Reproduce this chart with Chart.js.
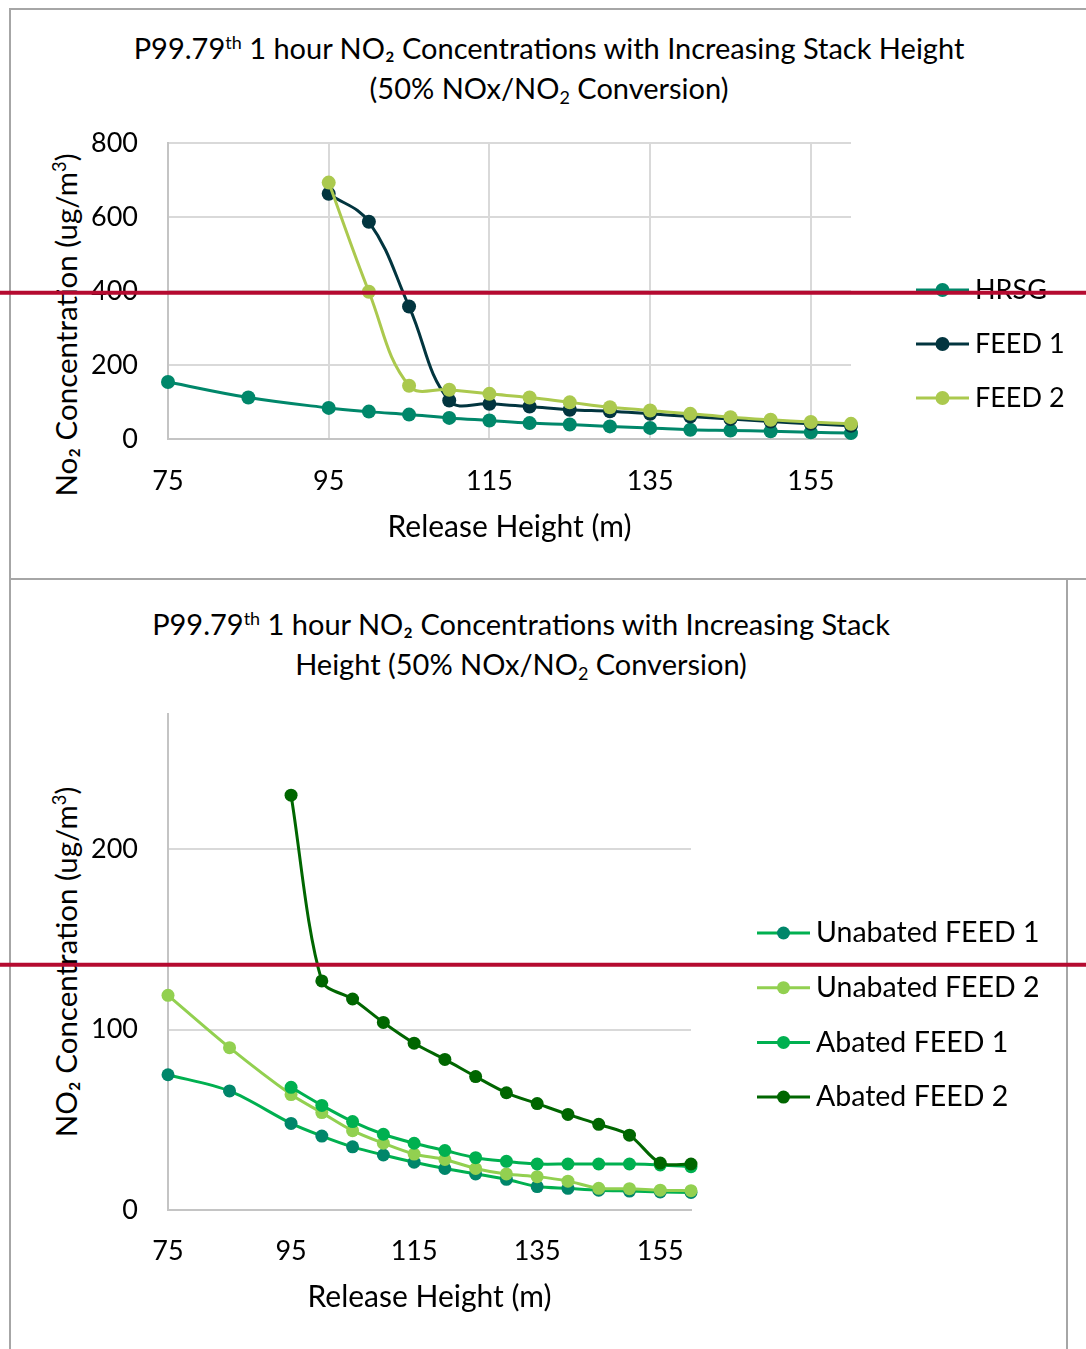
<!DOCTYPE html>
<html>
<head>
<meta charset="utf-8">
<script src="https://cdn.jsdelivr.net/npm/chart.js@4.4.0/dist/chart.umd.min.js"></script>
<style>
  html, body { margin: 0; padding: 0; background: #fff; }
  #page { position: relative; width: 1086px; height: 1349px; overflow: hidden; font-family: Lato, "Open Sans", sans-serif; color: #000; }
  .box { position: absolute; border: 2px solid #a6a6a6; box-sizing: border-box; }
  #box1 { left: 9px; top: 8px; width: 1100px; height: 572px; }
  #box2 { left: 9px; top: 578px; width: 1059px; height: 800px; }
  .title { position: absolute; transform: translateX(-50%); text-align: center; font-size: 29px; line-height: 39.5px; white-space: nowrap; }
  .title sup { font-size: 0.62em; vertical-align: 0.55em; line-height: 0; }
  .title sub { font-size: 0.62em; vertical-align: -0.3em; line-height: 0; }
  .ytitle { position: absolute; font-size: 29.5px; white-space: nowrap; transform: translate(-50%, -50%) rotate(-90deg); }
  .ytitle sup { font-size: 0.62em; vertical-align: 0.55em; line-height: 0; }
  canvas { position: absolute; left: 0; }
  #c1 { top: 0; }
  #c2 { top: 578px; }
</style>
</head>
<body>
<div id="page">
  <div class="box" id="box1"></div>
  <div class="box" id="box2"></div>
  <div class="title" style="left:549px; top:28px;">P99.79<sup>th</sup> 1 hour NO₂ Concentrations with Increasing Stack Height<br>(50% NOx/NO<sub>2</sub> Conversion)</div>
  <div class="title" style="left:521px; top:604px;">P99.79<sup>th</sup> 1 hour NO₂ Concentrations with Increasing Stack<br>Height (50% NOx/NO<sub>2</sub> Conversion)</div>
  <div class="ytitle" style="left:65px; top:325px;">No₂ Concentration (ug/m<sup>3</sup>)</div>
  <div class="ytitle" style="left:65px; top:962px;">NO₂ Concentration (ug/m<sup>3</sup>)</div>
  <canvas id="c1" width="1086" height="578"></canvas>
  <canvas id="c2" width="1086" height="771"></canvas>
</div>
<script>
// release heights (m) shared by both charts
const heights = [75, 85, 95, 100, 105, 110, 115, 120, 125, 130, 135, 140, 145, 150, 155, 160];
const xTicks = [75, 95, 115, 135, 155];

// top chart
const hrsg  = [154, 112, 84, 74, 66, 57, 50, 43, 39, 34, 30, 25, 23, 21, 18, 16];
const feed1 = [null, null, 663, 587, 358, 104, 95, 88, 79, 75, 68, 61, 54, 47, 41, 36];
const feed2 = [null, null, 693, 398, 144, 133, 122, 112, 99, 86, 77, 68, 59, 52, 46, 41];
const topYTicks = [0, 200, 400, 600, 800];
const topLimit = 395;

// bottom chart
const unabated1 = [75, 66, 48, 41, 35, 30.5, 26.5, 23, 20, 17, 13, 12, 11, 10.5, 10, 9.7];
const unabated2 = [119, 90, 64, 54, 44, 37, 31, 28, 23, 20, 18.5, 16, 12, 11.8, 11, 10.7];
const abated1   = [null, null, 68, 58, 49, 42, 37, 33, 29, 27, 25.5, 25.5, 25.5, 25.5, 25, 24];
const abated2   = [null, null, 230, 127, 117, 104, 92.5, 83.5, 74, 65, 59, 53, 47.5, 41.5, 26, 25.5];
const bottomYTicks = [0, 100, 200];
const bottomYMax = 275;
const bottomLimit = 136;

const FONT = 'Lato, "Open Sans", sans-serif';

function pts(vals) {
  return heights.map((h, i) => ({ x: h, y: vals[i] }));
}

function series(label, vals, line, point, order, radius, tension) {
  return {
    label, data: pts(vals),
    borderColor: line, backgroundColor: point,
    pointBackgroundColor: point, pointBorderWidth: 0,
    pointRadius: radius, pointHoverRadius: radius,
    borderWidth: 3, tension, order, clip: false, fill: false
  };
}

// legend: short line with a dot, label on the right
const lineLegend = {
  id: 'lineLegend',
  afterDatasetsDraw(chart, args, o) {
    const ctx = chart.ctx;
    ctx.save();
    ctx.font = o.font;
    ctx.textBaseline = 'middle';
    chart.data.datasets.forEach((ds, i) => {
      const y = o.y + i * o.gap;
      ctx.strokeStyle = ds.borderColor;
      ctx.lineWidth = 3;
      ctx.beginPath();
      ctx.moveTo(o.x, y);
      ctx.lineTo(o.x + o.len, y);
      ctx.stroke();
      ctx.fillStyle = ds.pointBackgroundColor;
      ctx.beginPath();
      ctx.arc(o.x + o.len / 2, y, o.r, 0, Math.PI * 2);
      ctx.fill();
      ctx.fillStyle = '#000';
      ctx.fillText(ds.label, o.x + o.len + 6, y);
    });
    ctx.restore();
  }
};

// red limit line across the whole width
const limitLine = {
  id: 'limitLine',
  afterDraw(chart, args, o) {
    const ctx = chart.ctx;
    const y = chart.scales.y.getPixelForValue(o.value);
    ctx.save();
    ctx.strokeStyle = '#b50a30';
    ctx.lineWidth = 4;
    ctx.beginPath();
    ctx.moveTo(0, y);
    ctx.lineTo(chart.width, y);
    ctx.stroke();
    ctx.restore();
  }
};

function makeChart(id, datasets, o) {
  return new Chart(document.getElementById(id), {
    type: 'line',
    data: { datasets },
    plugins: [lineLegend, limitLine],
    options: {
      responsive: false,
      animation: false,
      events: [],
      layout: { padding: { top: o.top, right: o.right, bottom: 0, left: 0 } },
      plugins: {
        legend: { display: false },
        tooltip: { enabled: false },
        lineLegend: o.legend,
        limitLine: { value: o.limit }
      },
      scales: {
        x: {
          type: 'linear', min: 75, max: 160,
          afterBuildTicks: s => { s.ticks = xTicks.map(v => ({ value: v })); },
          afterFit: s => { s.height = o.xHeight; },
          grid: { display: o.xGrid, color: '#d9d9d9', lineWidth: 2, drawTicks: false },
          border: { display: true, color: '#c4c4c4', width: 2 },
          ticks: { padding: o.xPad, color: '#000', font: { family: FONT, size: 27 } },
          title: {
            display: true, text: 'Release Height (m)', color: '#000',
            font: { family: FONT, size: 30 }, padding: { top: 0, bottom: o.titlePad }
          }
        },
        y: {
          type: 'linear', min: 0, max: o.yMax,
          afterBuildTicks: s => { s.ticks = o.yTicks.map(v => ({ value: v })); },
          afterFit: s => { s.width = 168; },
          grid: { color: '#d9d9d9', lineWidth: 2, drawTicks: false },
          border: { display: true, color: '#c4c4c4', width: 2 },
          ticks: { padding: 30, color: '#000', font: { family: FONT, size: 27 } }
        }
      }
    }
  });
}

makeChart('c1', [
  series('HRSG', hrsg, '#00876a', '#00876a', 3, 7, 0.4),
  series('FEED 1', feed1, '#02353f', '#02353f', 2, 7, 0.4),
  series('FEED 2', feed2, '#abc94e', '#abc94e', 1, 7, 0.4)
], {
  top: 143, right: 235, xHeight: 139, xGrid: true, xPad: 26, titlePad: 33,
  yMax: 800, yTicks: topYTicks, limit: topLimit,
  legend: { x: 916, y: 290, gap: 54, len: 53, r: 7, font: '27px ' + FONT }
});

makeChart('c2', [
  series('Unabated FEED 1', unabated1, '#00b050', '#00866a', 4, 6.5, 0.3),
  series('Unabated FEED 2', unabated2, '#92d050', '#92d050', 3, 6.5, 0.3),
  series('Abated FEED 1', abated1, '#00b050', '#00b050', 2, 6.5, 0.3),
  series('Abated FEED 2', abated2, '#006600', '#006600', 1, 6.5, 0.3)
], {
  top: 136, right: 395, xHeight: 139, xGrid: false, xPad: 25, titlePad: 34,
  yMax: bottomYMax, yTicks: bottomYTicks, limit: bottomLimit,
  legend: { x: 757, y: 355, gap: 54.7, len: 53, r: 6.5, font: '28.5px ' + FONT }
});
</script>
</body>
</html>
